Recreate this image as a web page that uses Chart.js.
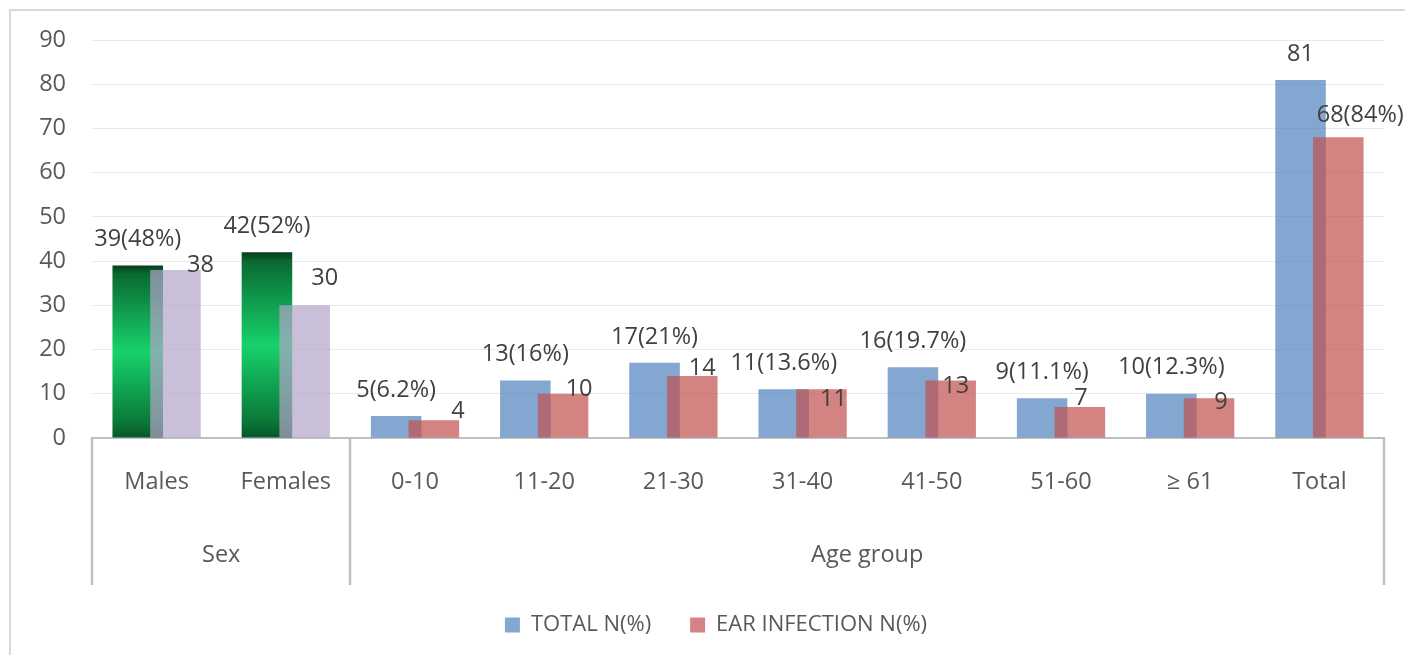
<!DOCTYPE html>
<html>
<head>
<meta charset="utf-8">
<script src="https://cdn.jsdelivr.net/npm/chart.js@4.4.0/dist/chart.umd.min.js"></script>
<style>
  html, body { margin: 0; padding: 0; background: #fff; overflow: hidden; }
  canvas { display: block; }
</style>
</head>
<body>
<canvas id="chart" width="1405" height="655"></canvas>
<script>
// data
const categories = ['Males', 'Females', '0-10', '11-20', '21-30', '31-40', '41-50', '51-60', '≥ 61', 'Total'];
const groupNames = ['Sex', 'Age group'];
const groupStart = [0, 2];
const groupEnd = [1, 9];
const totalN = [39, 42, 5, 13, 17, 11, 16, 9, 10, 81];
const totalPct = [48, 52, 6.2, 16, 21, 13.6, 19.7, 11.1, 12.3, null];
const earN = [38, 30, 4, 10, 14, 11, 13, 7, 9, 68];
const earPct = [null, null, null, null, null, null, null, null, null, 84];
const yMin = 0, yMax = 90, yStep = 10;

// hand-placed labels of the second series: [dx from bar centre, dy from bar top]
const earLabelShift = [[25, -5], [20, -27], [24, -9], [16, -4], [10, -8], [12, 10], [5, 6], [1, -9], [12, 4], [22, -22]];

const FONT = 'Open Sans';
const TEXT = '#595959';
const LABEL = '#404040';
const LINE = '#bfbfbf';
const BLUE = 'rgba(79,129,189,0.7)';
const RED = 'rgba(192,80,77,0.7)';
const LAVENDER = 'rgba(178,164,201,0.7)';

const labelText = (n, p) => p == null ? String(n) : `${n}(${p}%)`;

function greenFill(ctx) {
  const chart = ctx.chart;
  const y = chart.scales.y;
  if (!chart.chartArea || !y) return '#12a855';
  const top = y.getPixelForValue(ctx.raw);
  const bottom = y.getPixelForValue(0);
  const g = chart.ctx.createLinearGradient(0, top, 0, bottom);
  g.addColorStop(0, '#053d1b');
  g.addColorStop(0.05, '#0a6a32');
  g.addColorStop(0.5, '#16d26b');
  g.addColorStop(0.9, '#0b7a3a');
  g.addColorStop(1, '#06552a');
  return g;
}

const frame = {
  id: 'frame',
  beforeDraw(chart) {
    const c = chart.ctx;
    c.save();
    c.strokeStyle = '#d9d9d9';
    c.lineWidth = 2;
    c.beginPath();
    c.moveTo(10, chart.height);
    c.lineTo(10, 10);
    c.lineTo(chart.width, 10);
    c.stroke();
    c.restore();
  }
};

// red bars go on top of blue ones, then the value labels
const barsAndLabels = {
  id: 'barsAndLabels',
  beforeDatasetDraw(chart, args) {
    if (args.index === 1) return false;
  },
  afterDatasetsDraw(chart) {
    chart.getDatasetMeta(1).controller.draw();
    const c = chart.ctx;
    c.save();
    c.font = `23.5px "${FONT}"`;
    c.fillStyle = LABEL;
    c.textAlign = 'center';
    c.textBaseline = 'middle';
    chart.getDatasetMeta(0).data.forEach((bar, i) => {
      c.fillText(labelText(totalN[i], totalPct[i]), bar.x, bar.y - 26);
    });
    chart.getDatasetMeta(1).data.forEach((bar, i) => {
      const [dx, dy] = earLabelShift[i];
      c.fillText(labelText(earN[i], earPct[i]), bar.x + dx, bar.y + dy);
    });
    c.restore();
  }
};

// the second level of the category axis
const groupAxis = {
  id: 'groupAxis',
  afterLayout(chart) {
    chart.legend.left += 24;
    chart.legend.right += 24;
  },
  afterDraw(chart) {
    const c = chart.ctx;
    const x = chart.scales.x;
    const area = chart.chartArea;
    const half = (x.getPixelForValue(1) - x.getPixelForValue(0)) / 2;
    const bottom = 585;
    c.save();
    c.strokeStyle = LINE;
    c.lineWidth = 2.5;
    c.font = `23.5px "${FONT}"`;
    c.fillStyle = TEXT;
    c.textAlign = 'center';
    c.textBaseline = 'middle';
    const edges = new Set();
    groupNames.forEach((name, g) => {
      const left = x.getPixelForValue(groupStart[g]) - half;
      const right = x.getPixelForValue(groupEnd[g]) + half;
      edges.add(Math.round(left));
      edges.add(Math.round(right));
      c.fillText(name, (left + right) / 2, 555);
    });
    edges.forEach(px => {
      c.beginPath();
      c.moveTo(px, area.bottom);
      c.lineTo(px, bottom);
      c.stroke();
    });
    c.restore();
  }
};

new Chart(document.getElementById('chart'), {
  type: 'bar',
  data: {
    labels: categories,
    datasets: [
      {
        label: 'TOTAL N(%)',
        data: totalN,
        backgroundColor: (ctx) => (ctx.type === 'data' && ctx.dataIndex < 2) ? greenFill(ctx) : BLUE,
        borderWidth: 0,
        barPercentage: 1.34,
        categoryPercentage: 0.584
      },
      {
        label: 'EAR INFECTION N(%)',
        data: earN,
        backgroundColor: (ctx) => (ctx.type === 'data' && ctx.dataIndex < 2) ? LAVENDER : RED,
        borderWidth: 0,
        barPercentage: 1.34,
        categoryPercentage: 0.584
      }
    ]
  },
  options: {
    responsive: false,
    animation: false,
    layout: { padding: { top: 40, right: 21, bottom: 9, left: 0 } },
    plugins: {
      legend: {
        position: 'bottom',
        labels: {
          font: { family: FONT, size: 22 },
          color: TEXT,
          boxWidth: 15,
          boxHeight: 15,
          padding: 39,
          generateLabels(chart) {
            const items = Chart.defaults.plugins.legend.labels.generateLabels(chart);
            items[0].fillStyle = BLUE;
            items[1].fillStyle = RED;
            items.forEach(it => { it.lineWidth = 0; });
            return items;
          }
        }
      },
      tooltip: { enabled: false }
    },
    scales: {
      x: {
        grid: { display: false, drawTicks: false },
        border: { color: LINE, width: 2 },
        ticks: {
          font: { family: FONT, size: 23.5 },
          color: TEXT,
          padding: 30,
          maxRotation: 0,
          autoSkip: false
        },
        afterFit(scale) { scale.height = 137; }
      },
      y: {
        min: yMin,
        max: yMax,
        grid: { color: '#e9e9e9', drawTicks: false },
        border: { display: false },
        ticks: {
          stepSize: yStep,
          font: { family: FONT, size: 23.5 },
          color: TEXT,
          padding: 26
        },
        afterFit(scale) { scale.width = 92; }
      }
    }
  },
  plugins: [frame, barsAndLabels, groupAxis]
});
</script>
</body>
</html>
